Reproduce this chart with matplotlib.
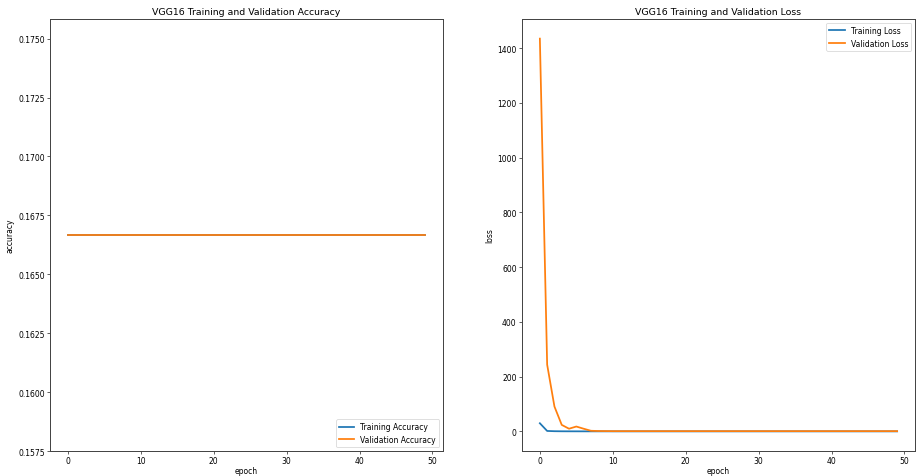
import matplotlib
matplotlib.use("Agg")
import matplotlib.pyplot as plt
import numpy as np

epochs = list(range(50))
train_acc = [1/6] * 50
val_acc = [1/6] * 50
train_loss = [30.0, 1.8, 0.9, 0.6, 0.5, 0.45, 0.4, 0.38, 0.36, 0.35] + [0.33] * 40
val_loss = [1435.0, 244.0, 91.0, 24.0, 10.0, 18.0, 10.0, 2.5, 1.6, 1.3] + [1.1] * 40

plt.rcParams["axes.linewidth"] = 1.3
plt.rcParams["axes.edgecolor"] = "#444444"
plt.rcParams["lines.linewidth"] = 2.3
plt.rcParams["axes.titlesize"] = 12.3

DPI = 55
fig = plt.figure(figsize=(916 / DPI, 477 / DPI), dpi=DPI)
ax1 = fig.add_axes([50 / 916, 1 - 452 / 477, 393 / 916, 432 / 477])
ax2 = fig.add_axes([522 / 916, 1 - 452 / 477, 393 / 916, 432 / 477])

ax1.plot(epochs, train_acc, label="Training Accuracy")
ax1.plot(epochs, val_acc, label="Validation Accuracy")
ax1.set_title("VGG16 Training and Validation Accuracy")
ax1.set_xlabel("epoch", labelpad=1.5)
ax1.set_ylabel("accuracy")
ax1.legend(loc="lower right")

ax2.plot(epochs, train_loss, label="Training Loss")
ax2.plot(epochs, val_loss, label="Validation Loss")
ax2.set_title("VGG16 Training and Validation Loss")
ax2.set_xlabel("epoch", labelpad=1.5)
ax2.set_ylabel("loss")
ax2.legend(loc="upper right")

fig.savefig("out.png", dpi=DPI)
